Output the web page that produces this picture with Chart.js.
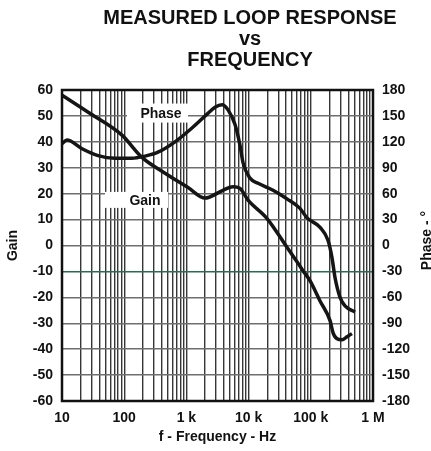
<!DOCTYPE html>
<html>
<head>
<meta charset="utf-8">
<title>Measured Loop Response vs Frequency</title>
<script src="https://cdn.jsdelivr.net/npm/chart.js@4.4.1/dist/chart.umd.min.js"></script>
<style>
  html, body { margin: 0; padding: 0; background: #fff; }
  #wrap { width: 431px; height: 451px; }
</style>
</head>
<body>
<div id="wrap"><canvas id="chart" width="431" height="451"></canvas></div>
<script>
// Gain curve (dB)
const gainFreq = [10, 26, 92, 193, 453, 1060, 1990, 3870, 5600, 7270, 9800, 19800, 41400, 75000, 97000, 140000, 204000, 228000, 264000, 318000, 382000, 459000];
const gainDb   = [58, 51.5, 42.6, 34, 27.9, 22.4, 18.3, 21.3, 22.7, 22, 17.5, 10.4, -0.7, -9.7, -13.6, -21.3, -29, -33.7, -36, -36.4, -35.2, -34];

// Phase curve (degrees)
const phaseFreq = [10, 12, 21, 38, 71, 133, 216, 349, 656, 1230, 2220, 2880, 3740, 4670, 6050, 7270, 8130, 10500, 14200, 24700, 41400, 67000, 87000, 141000, 189000, 219000, 245000, 295000, 355000, 514000];
const phaseDeg  = [118, 122, 112, 104, 101, 101, 103.5, 108, 120, 136, 153, 160, 163, 157, 140, 116, 96, 78, 72, 64, 54, 43, 32, 21, 6, -14, -37, -60, -70, -77];

// axes
const decades = [10, 100, 1000, 10000, 100000];
const decadeSteps = [1, 2, 3, 4, 5, 6, 7, 8, 9];
const freqLabels = { 10: '10', 100: '100', 1000: '1 k', 10000: '10 k', 100000: '100 k', 1000000: '1 M' };
const gainRange = [-60, 60];
const phaseRange = [-180, 180];
const markerGain = -10; // green reference line

const titleLines = ['MEASURED LOOP RESPONSE', 'vs', 'FREQUENCY'];
const curveNames = ['Phase', 'Gain'];
const curveNameFreq = [391, 216];
const curveNameGain = [51.1, 17.6];

const freqTicks = [];
decades.forEach(d => decadeSteps.forEach(m => freqTicks.push(d * m)));
freqTicks.push(1000000);

const FONT = "'Liberation Sans', Arial, sans-serif";

// title, right axis title, curve names and plot frame
const decorPlugin = {
  id: 'decor',
  beforeDatasetsDraw(chart) {
    const { ctx, scales } = chart;
    ctx.save();
    ctx.font = 'bold 14px ' + FONT;
    ctx.textBaseline = 'middle';
    ctx.textAlign = 'center';
    const boxes = [{ w: 61, h: 19, dx: -3.5 }, { w: 63, h: 16, dx: -8.5 }];
    curveNames.forEach((name, i) => {
      const x = scales.x.getPixelForValue(curveNameFreq[i]);
      const y = scales.y.getPixelForValue(curveNameGain[i]);
      const b = boxes[i];
      ctx.fillStyle = '#fff';
      ctx.fillRect(x + b.dx - b.w / 2, y - b.h / 2, b.w, b.h);
      ctx.fillStyle = '#111';
      ctx.fillText(name, x, y + 1);
    });
    ctx.restore();
  },
  afterDraw(chart) {
    const { ctx, chartArea } = chart;
    ctx.save();
    // frame
    ctx.strokeStyle = '#111';
    ctx.lineWidth = 2.5;
    ctx.strokeRect(chartArea.left, chartArea.top, chartArea.right - chartArea.left, chartArea.bottom - chartArea.top);

    // main title
    ctx.fillStyle = '#111';
    ctx.font = 'bold 20px ' + FONT;
    ctx.textAlign = 'center';
    ctx.textBaseline = 'alphabetic';
    titleLines.forEach((line, i) => ctx.fillText(line, 250, 24 + i * 21));

    // right axis title, reads bottom to top
    ctx.font = 'bold 14px ' + FONT;
    ctx.translate(431, (chartArea.top + chartArea.bottom) / 2 - 5);
    ctx.rotate(-Math.PI / 2);
    ctx.fillText('Phase - °', 0, 0);
    ctx.restore();
  }
};

const tickFont = { family: FONT, size: 14, weight: 'bold' };

new Chart(document.getElementById('chart'), {
  type: 'line',
  data: {
    datasets: [
      {
        label: 'Gain',
        data: gainFreq.map((f, i) => ({ x: f, y: gainDb[i] })),
        yAxisID: 'y',
        borderColor: '#151515',
        borderWidth: 3.5,
        pointRadius: 0,
        cubicInterpolationMode: 'monotone',
        fill: false
      },
      {
        label: 'Phase',
        data: phaseFreq.map((f, i) => ({ x: f, y: phaseDeg[i] })),
        yAxisID: 'y2',
        borderColor: '#151515',
        borderWidth: 3.5,
        pointRadius: 0,
        cubicInterpolationMode: 'monotone',
        fill: false
      }
    ]
  },
  options: {
    responsive: false,
    animation: false,
    layout: { padding: { top: 90, left: 0, right: 0, bottom: 0 } },
    plugins: {
      legend: { display: false },
      title: { display: false },
      tooltip: { enabled: false }
    },
    scales: {
      x: {
        type: 'logarithmic',
        min: 10,
        max: 1000000,
        afterBuildTicks: scale => { scale.ticks = freqTicks.map(v => ({ value: v })); },
        afterFit: scale => { scale.height = 50; },
        border: { display: false },
        grid: { color: '#363636', lineWidth: 1.4, drawTicks: false },
        ticks: {
          autoSkip: false,
          maxRotation: 0,
          padding: 9,
          color: '#111',
          font: tickFont,
          callback: value => freqLabels[value] || ''
        },
        title: {
          display: true,
          text: 'f - Frequency - Hz',
          color: '#111',
          font: tickFont,
          padding: { top: 0, bottom: 5 }
        }
      },
      y: {
        position: 'left',
        min: gainRange[0],
        max: gainRange[1],
        afterFit: scale => { scale.width = 62; },
        border: { display: false },
        grid: {
          color: c => (c.tick && c.tick.value === markerGain ? '#2d6a52' : '#6e6e6e'),
          lineWidth: 1.5,
          drawTicks: false
        },
        ticks: { stepSize: 10, padding: 9, color: '#111', font: tickFont },
        title: {
          display: true,
          text: 'Gain',
          color: '#111',
          font: tickFont,
          padding: { top: 5, bottom: 0 }
        }
      },
      y2: {
        position: 'right',
        min: phaseRange[0],
        max: phaseRange[1],
        afterFit: scale => { scale.width = 58; },
        border: { display: false },
        grid: { drawOnChartArea: false, drawTicks: false },
        ticks: { stepSize: 30, padding: 9, color: '#111', font: tickFont }
      }
    }
  },
  plugins: [decorPlugin]
});
</script>
</body>
</html>
